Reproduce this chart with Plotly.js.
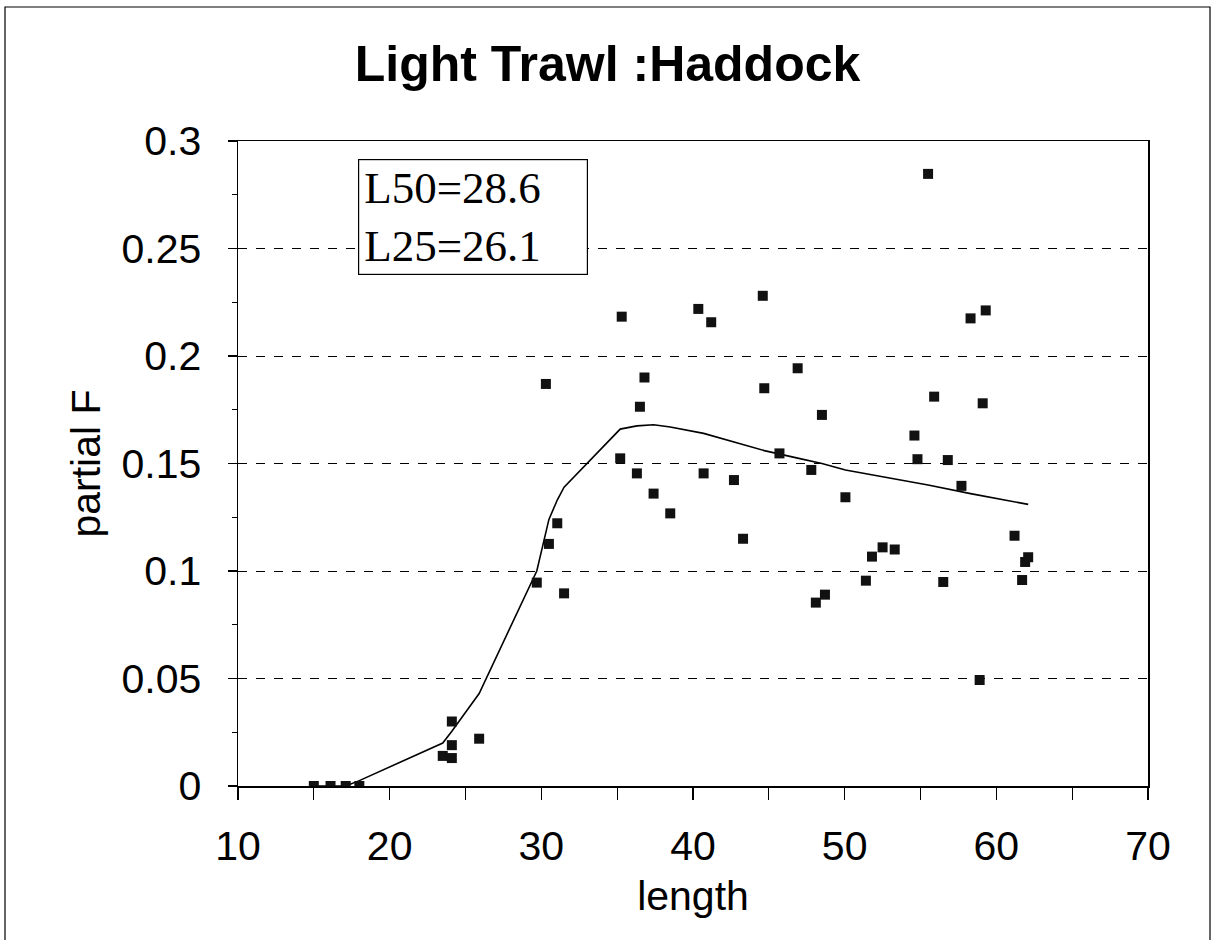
<!DOCTYPE html>
<html>
<head>
<meta charset="utf-8">
<script src="https://cdn.plot.ly/plotly-3.0.1.min.js"></script>
<style>
  html, body { margin: 0; padding: 0; background: #fff; }
  #chart { width: 1215px; height: 940px; }
</style>
</head>
<body>
<div id="chart"></div>
<script>
// Observed partial F by length (scatter squares)
const obsLength = [15, 16.1, 17.1, 18, 23.5, 24.1, 24.1, 24.1, 25.9, 29.7,
  30.3, 30.5, 31.05, 31.5, 35.2, 35.3, 36.3, 36.5, 36.8, 37.4,
  38.5, 40.35, 40.7, 41.2, 42.7, 43.3, 44.6, 44.7, 45.7, 46.9,
  47.8, 48.1, 48.5, 48.7, 50.05, 51.4, 51.8, 52.5, 53.3, 54.6,
  54.8, 55.5, 55.9, 56.5, 56.8, 57.7, 58.3, 58.9, 59.1, 59.3,
  61.2, 61.7, 61.9, 62.1];
const obsPartialF = [0, 0, 0, 0, 0.014, 0.013, 0.019, 0.030, 0.022, 0.0946,
  0.187, 0.1126, 0.1222, 0.0896, 0.1524, 0.2183, 0.1454, 0.1764, 0.190, 0.136,
  0.1268, 0.2219, 0.1454, 0.2157, 0.1423, 0.115, 0.228, 0.185, 0.1547, 0.1943,
  0.147, 0.0853, 0.1726, 0.089, 0.1343, 0.0955, 0.1067, 0.111, 0.110, 0.163,
  0.152, 0.2847, 0.1811, 0.0949, 0.1516, 0.1396, 0.2175, 0.0493, 0.178, 0.2212,
  0.1164, 0.0958, 0.1042, 0.1064];

// Fitted selectivity curve
const fitLength = [15, 16.1, 17.1, 18, 23.5, 24.1, 25.9, 29.7, 30.3, 30.5,
  31.05, 31.5, 35.2, 36.3, 37.4, 38.5, 40.7, 42.7, 44.7, 46.9,
  48.5, 50.05, 52.5, 55.5, 58.3, 62.1];
const fitPartialF = [0, 0, 0, 0.0025, 0.020, 0.0255, 0.043, 0.100, 0.118, 0.124,
  0.133, 0.139, 0.166, 0.1675, 0.168, 0.167, 0.164, 0.160, 0.156, 0.1525,
  0.150, 0.147, 0.144, 0.140, 0.136, 0.131];

const titleText = "Light Trawl :Haddock";
const xTitle = "length";
const yTitle = "partial F";
const boxLines = ["L50=28.6", "L25=26.1"];

const sans = "Liberation Sans, Arial, Helvetica, sans-serif";
const serif = "Liberation Serif, Times New Roman, serif";

const traces = [
  {
    x: fitLength, y: fitPartialF, type: "scatter", mode: "lines",
    line: { color: "#000", width: 1.6 }, hoverinfo: "skip", showlegend: false
  },
  {
    x: obsLength, y: obsPartialF, type: "scatter", mode: "markers",
    marker: { symbol: "square", size: 10, color: "#111", line: { width: 0 } },
    showlegend: false
  }
];

const layout = {
  width: 1215, height: 940,
  margin: { l: 238, r: 67, t: 141, b: 154 },
  paper_bgcolor: "#fff", plot_bgcolor: "#fff",
  showlegend: false,
  title: {
    text: "<b>" + titleText + "</b>",
    font: { family: sans, size: 50, color: "#000" },
    x: 0.5, xanchor: "center", xref: "container",
    y: 1 - 63 / 940, yanchor: "middle", yref: "container"
  },
  xaxis: {
    range: [10, 70], dtick: 10, tick0: 10,
    showgrid: false, zeroline: false,
    showline: true, linecolor: "#000", linewidth: 1.5, mirror: true,
    ticks: "outside", ticklen: 12, tickwidth: 1.2, tickcolor: "#000",
    minor: { dtick: 5, ticks: "outside", ticklen: 12, tickwidth: 1.2, tickcolor: "#000", showgrid: false },
    tickfont: { family: sans, size: 41, color: "#000" },
    ticklabelstandoff: 11,
    title: { text: xTitle, font: { family: sans, size: 41, color: "#000" }, standoff: 13 }
  },
  yaxis: {
    range: [0, 0.3], dtick: 0.05, tick0: 0,
    showgrid: true, gridcolor: "#000", gridwidth: 1, griddash: "dash",
    zeroline: false,
    showline: true, linecolor: "#000", linewidth: 1.5, mirror: true,
    ticks: "outside", ticklen: 9, tickwidth: 1.2, tickcolor: "#000",
    minor: { dtick: 0.025, ticks: "outside", ticklen: 5, tickwidth: 1.2, tickcolor: "#000", showgrid: false },
    tickfont: { family: sans, size: 41, color: "#000" },
    ticklabelstandoff: 18,
    title: { text: yTitle, font: { family: sans, size: 41, color: "#000" }, standoff: 8 }
  },
  annotations: [
    {
      xref: "paper", yref: "paper",
      x: (358 - 238) / 910, y: (786 - 159) / 645,
      xanchor: "left", yanchor: "top",
      text: boxLines.join("<br>"),
      showarrow: false, align: "left",
      font: { family: serif, size: 45, color: "#000" },
      bordercolor: "#000", borderwidth: 1.2, borderpad: 5, bgcolor: "#fff",
      width: 218, height: 104
    }
  ],
  shapes: [
    {
      type: "rect", xref: "paper", yref: "paper",
      x0: (5 - 238) / 910, x1: (1210 - 238) / 910,
      y0: (786 - 945) / 645, y1: (786 - 7) / 645,
      line: { color: "#000", width: 1.2 }, fillcolor: "rgba(0,0,0,0)", layer: "below"
    }
  ]
};

Plotly.newPlot("chart", traces, layout, { staticPlot: true, displayModeBar: false });
</script>
</body>
</html>
